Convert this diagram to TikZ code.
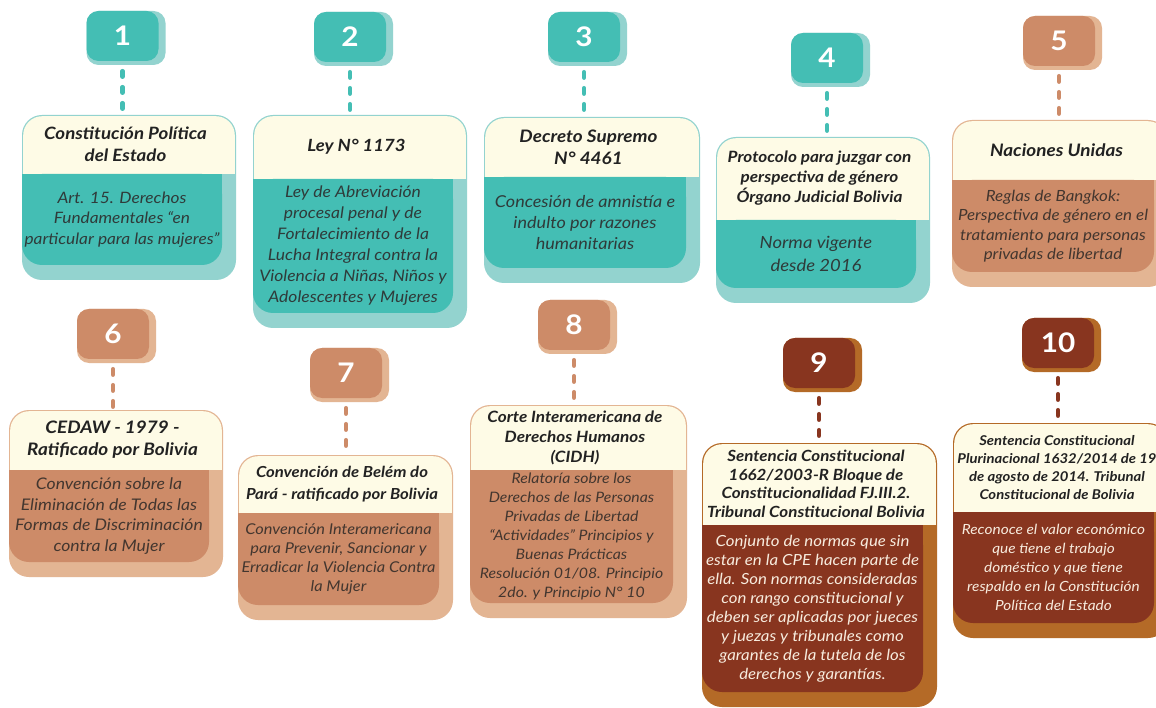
\documentclass[tikz,border=0pt]{standalone}
\usepackage{fontspec}
\setmainfont{Lato}[FakeStretch=1.1]
\usetikzlibrary{fit}
\definecolor{tealdark}{HTML}{44BEB4}
\definecolor{teallight}{HTML}{93D3CF}
\definecolor{tealtxt}{HTML}{2F3B3A}
\definecolor{tandark}{HTML}{CD8B68}
\definecolor{tanlight}{HTML}{E3B593}
\definecolor{tantxt}{HTML}{43362F}
\definecolor{browndark}{HTML}{88351F}
\definecolor{brownlight}{HTML}{B46A27}
\definecolor{browntxt}{HTML}{F7EBDD}
\definecolor{cream}{HTML}{FEFBE6}
\definecolor{hdrtext}{HTML}{222222}
\tikzset{
  hdr/.style={text=hdrtext, align=center, inner sep=0pt},
  bdy/.style={align=center, inner sep=0pt},
  badgenum/.style={font=\bfseries\fontsize{27}{27}\selectfont, text=white},
  conn/.style={line width=4.5pt, dash pattern=on 5.5pt off 10.5pt, line cap=round}
}
% font sizes for the next card: header size, header skip, body size, body skip
\newcommand\cardfonts[4]{%
  \tikzset{hfont/.style={font=\bfseries\itshape\fontsize{#1}{#2}\selectfont},
           bfont/.style={font=\itshape\fontsize{#3}{#4}\selectfont}}%
}
% badge: id, cx, cy, theme, number
\newcommand\badge[5]{%
  \fill[#4light, rounded corners=12pt] (#2-36,#3-25) rectangle (#2+36+7,#3+25+4);
  \node[fill=#4dark, rounded corners=12pt, minimum width=72pt, minimum height=50pt,
        inner sep=0pt, badgenum] (b#1) at (#2,#3) {#5};
}
% card: id, x1, y1, x2, y2, yh, theme, header, body
\newcommand\card[9]{%
  \fill[#7light, rounded corners=20pt] (#2,#3) rectangle (#4,#5);
  \fill[cream, rounded corners=19pt] (#2+1.2,#3+1.2) rectangle (#4-1.2,#6);
  \fill[cream] (#2+1.2,#6-22) rectangle (#4-1.2,#6);
  \fill[#7dark, rounded corners=20pt] (#2,#6) rectangle (#4-14,#5-15);
  \fill[#7dark] (#2,#6) rectangle (#4-14,#6+25);
  \node[fit={(#2,#3) (#4,#5)}, inner sep=0pt] (c#1) {};
  \node[hdr, hfont] (h#1) at ({(#2+#4-7)/2},{(#3+#6)/2}) {#8};
  \node[bdy, bfont, text=#7txt] (t#1) at ({(#2+#4-14)/2},{(#6+#5-15)/2}) {#9};
}
\begin{document}
\begin{tikzpicture}[x=1pt,y=-1pt]
\useasboundingbox (0,0) rectangle (1156,708);
\clip (0,0) rectangle (1156,708);
\fill[white] (0,0) rectangle (1156,708);

% ---------- row 1 ----------
\cardfonts{17}{22}{15.7}{20.5}
\card{1}{22}{115}{236}{280}{174}{teal}
  {Constitución Política\\del Estado}
  {Art. 15. Derechos\\Fundamentales “en\\particular para las mujeres”}
\cardfonts{16.8}{22}{15.9}{21}
\card{2}{253}{115}{467}{328}{179}{teal}
  {Ley N° 1173}
  {Ley de Abreviación\\procesal penal y de\\Fortalecimiento de la\\Lucha Integral contra la\\Violencia a Niñas, Niños y\\Adolescentes y Mujeres}
\cardfonts{17.2}{22}{16.4}{21}
\card{3}{484}{117}{700}{283}{177}{teal}
  {Decreto Supremo\\N° 4461}
  {Concesión de amnistía e\\indulto por razones\\humanitarias}
\cardfonts{15.6}{20}{16.8}{23}
\card{4}{716}{137}{930}{303}{220}{teal}
  {Protocolo para juzgar con\\perspectiva de género\\Órgano Judicial Bolivia}
  {Norma vigente\\desde 2016}
\cardfonts{17.2}{22}{15.4}{19.5}
\card{5}{952}{120}{1168}{287}{180}{tan}
  {Naciones Unidas}
  {Reglas de Bangkok:\\Perspectiva de género en el\\tratamiento para personas\\privadas de libertad}

% ---------- row 2 ----------
\cardfonts{17.2}{22}{16}{20.5}
\card{6}{9}{410}{223}{577}{470}{tan}
  {CEDAW - 1979 -\\Ratificado por Bolivia}
  {Convención sobre la\\Eliminación de Todas las\\Formas de Discriminación\\contra la Mujer}
\cardfonts{15.2}{22}{14.9}{19}
\card{7}{238}{455}{453}{620}{513}{tan}
  {Convención de Belém do\\Pará - ratificado por Bolivia}
  {Convención Interamericana\\para Prevenir, Sancionar y\\Erradicar la Violencia Contra\\la Mujer}
\cardfonts{15.6}{20}{14.4}{19}
\card{8}{470}{405}{687}{618}{470}{tan}
  {Corte Interamericana de\\Derechos Humanos\\(CIDH)}
  {Relatoría sobre los\\Derechos de las Personas\\Privadas de Libertad\\“Actividades” Principios y\\Buenas Prácticas\\Resolución 01/08. Principio\\2do. y Principio N° 10}
\cardfonts{15.4}{18.5}{15.3}{19}
\card{9}{702}{443}{937}{707}{525}{brown}
  {Sentencia Constitucional\\1662/2003-R Bloque de\\Constitucionalidad FJ.III.2.\\Tribunal Constitucional Bolivia}
  {Conjunto de normas que sin\\estar en la CPE hacen parte de\\ella. Son normas consideradas\\con rango constitucional y\\deben ser aplicadas por jueces\\y juezas y tribunales como\\garantes de la tutela de los\\derechos y garantías.}
\cardfonts{13.5}{18}{14}{19}
\card{10}{953}{423}{1168}{638}{512}{brown}
  {Sentencia Constitucional\\Plurinacional 1632/2014 de 19\\de agosto de 2014. Tribunal\\Constitucional de Bolivia}
  {Reconoce el valor económico\\que tiene el trabajo\\doméstico y que tiene\\respaldo en la Constitución\\Política del Estado}

% ---------- badges ----------
\badge{1}{122.5}{36}{teal}{1}
\badge{2}{350}{37}{teal}{2}
\badge{3}{584}{37}{teal}{3}
\badge{4}{827}{58}{teal}{4}
\badge{5}{1059}{41}{tan}{5}
\badge{6}{113}{334}{tan}{6}
\badge{7}{346}{373}{tan}{7}
\badge{8}{574}{325}{tan}{8}
\badge{9}{819}{363}{brown}{9}
\badge{10}{1058}{343}{brown}{10}

% ---------- connectors ----------
\foreach \i/\th in {1/teal,2/teal,3/teal,4/teal,5/tan,6/tan,7/tan,8/tan,9/brown,10/brown}{
  \draw[conn, draw=\th dark] ([yshift=-10pt]b\i.south) -- (b\i.south |- c\i.north);
}
\end{tikzpicture}
\end{document}
